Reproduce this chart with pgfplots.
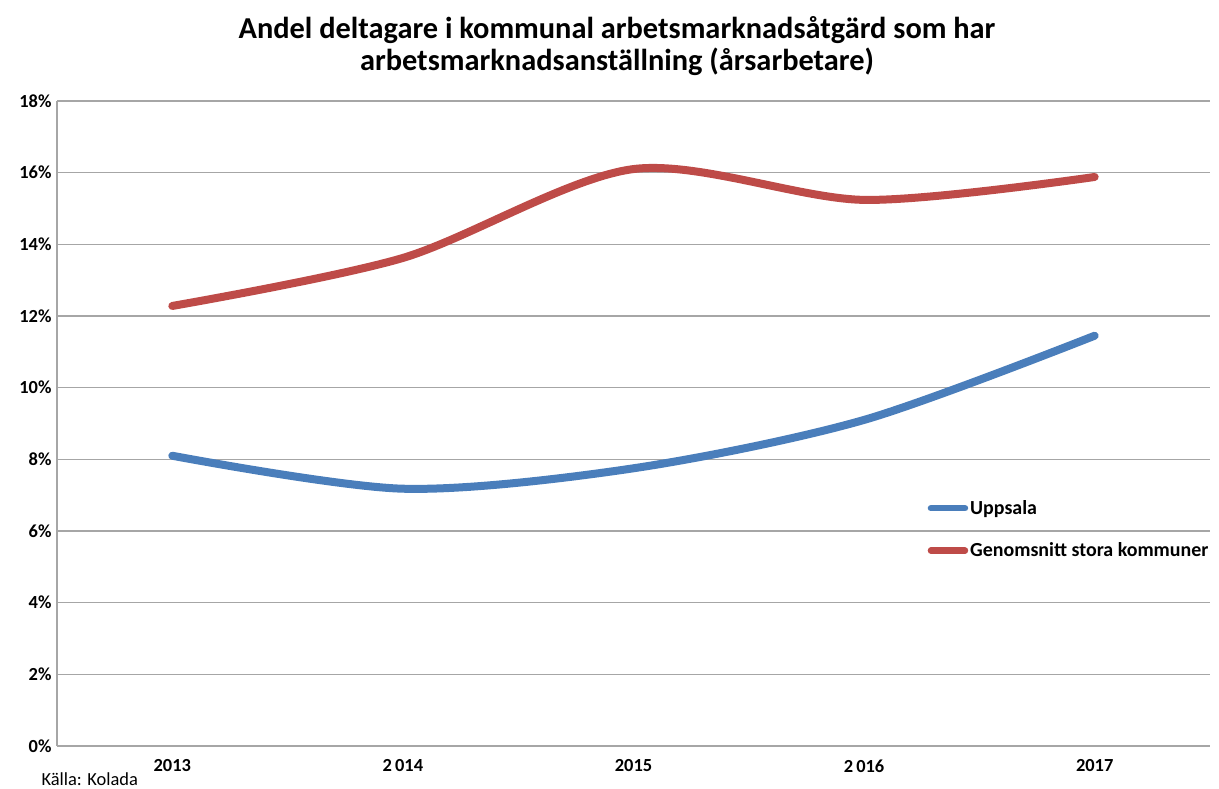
\documentclass[border=0pt]{standalone}
\usepackage{pgfplots}
\pgfplotsset{compat=1.18}
\usepackage{fontspec}
\setmainfont{Carlito}
\definecolor{ublue}{HTML}{4A7EBB}
\definecolor{ured}{HTML}{BE4B48}
\definecolor{gridgray}{HTML}{A6A6A6}
\begin{document}
\begin{tikzpicture}
\path[use as bounding box] (0,0) rectangle (1219bp,789bp);
\begin{axis}[
  at={(57bp,43bp)}, anchor=south west,
  scale only axis, width=1153bp, height=645bp,
  xmin=-0.5, xmax=4.5, ymin=0, ymax=18,
  xtick={0,1,2,3,4},
  xticklabels={2013,2\,014,2015,2\,016,2017},
  ytick={0,2,...,18},
  yticklabel={\pgfmathprintnumber{\tick}\%},
  /pgf/number format/assume math mode=true,
  ticklabel style={font=\fontsize{18.5}{22}\selectfont\bfseries},
  xticklabel style={yshift=-10bp},
  yticklabel style={xshift=-2bp},
  major tick length=0pt,
  xmajorgrids=false, ymajorgrids=true,
  grid style={color=gridgray, line width=1.6bp},
  axis x line*=bottom, axis y line*=left,
  x axis line style={color=gridgray, line width=2bp, -},
  y axis line style={color=gridgray, line width=1.6bp, -},
  legend style={at={(axis description cs:0.755,0.384)}, anchor=north west,
    draw=none, fill=none, font=\fontsize{20}{24}\selectfont\bfseries,
    row sep=23bp, inner sep=0pt},
  legend cell align=left,
  legend image code/.code={\draw[#1, line width=6.5bp, line cap=round] (0bp,0bp) -- (34bp,0bp);},
]
\addplot[ublue, line width=8bp, line cap=round, smooth, tension=0.5] coordinates {
(0,8.1) (1,7.18) (2,7.75) (3,9.1) (4,11.45)};
\addlegendentry{Uppsala}
\addplot[ured, line width=8bp, line cap=round, smooth, tension=0.5] coordinates {
(0,12.28) (1,13.62) (2,16.1) (3,15.24) (4,15.88)};
\addlegendentry{Genomsnitt stora kommuner}
\end{axis}
\node[font=\fontsize{30.5}{32}\selectfont\bfseries, align=center] at (617bp,743bp) {Andel deltagare i kommunal arbetsmarknadsåtgärd som har\\arbetsmarknadsanställning (årsarbetare)};
\node[font=\fontsize{18.5}{22}\selectfont, anchor=west] at (38bp,10bp) {Källa: Kolada};
\end{tikzpicture}
\end{document}
